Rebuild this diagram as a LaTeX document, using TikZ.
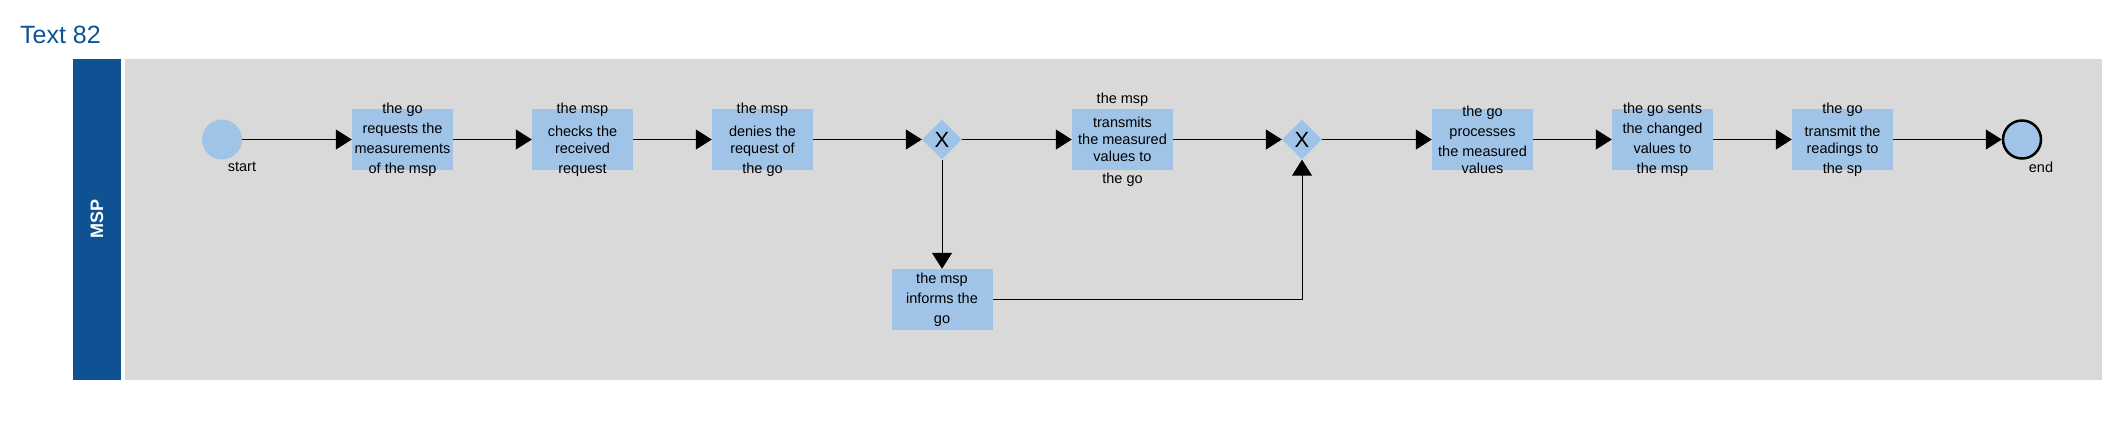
\documentclass[tikz,border=0pt]{standalone}
\usepackage{fontspec}
\setmainfont{Liberation Sans}
\usetikzlibrary{shapes.geometric,arrows.meta}
\definecolor{taskblue}{RGB}{160,196,232}
\definecolor{poolgray}{RGB}{217,217,217}
\definecolor{lanedark}{RGB}{14,82,148}
\begin{document}
\begin{tikzpicture}[
    x=1pt, y=-1pt,
    every node/.style={font=\fontsize{14.5}{20}\selectfont},
    task/.style={rectangle, fill=taskblue, minimum width=101pt, minimum height=61pt, inner sep=0pt},
    tasktext/.style={align=center, inner sep=0pt, text=black},
    gateway/.style={diamond, fill=taskblue, minimum width=40pt, minimum height=40pt, inner sep=0pt, font=\fontsize{22}{24}\selectfont},
    startev/.style={circle, fill=taskblue, minimum size=40pt, inner sep=0pt},
    endev/.style={circle, fill=taskblue, draw=black, line width=2.5pt, minimum size=38pt, inner sep=0pt},
    evlabel/.style={inner sep=0pt},
    flow/.style={draw, line width=1pt, -{Triangle[length=16pt, width=20pt]}},
    lanebar/.style={rectangle, fill=lanedark, text=white, rotate=90, minimum width=321pt, minimum height=48pt, inner sep=0pt, font=\fontsize{18}{20}\selectfont\bfseries},
    title/.style={inner sep=0pt, text=lanedark, font=\fontsize{25}{30}\selectfont}
]
\useasboundingbox (0,0) rectangle (2119,421);

% Title and lane
\node[title, anchor=base west] (title) at (20,43) {Text 82};
\fill[poolgray] (125,59) rectangle (2102,380);
\node[lanebar] (msp) at (97,219) {MSP};

% Events
\node[startev] (start) at (222,139.5) {};
\node[evlabel] (start-l) at (242,167) {start};
\node[endev] (end) at (2022,139.5) {};
\node[evlabel] (end-l) at (2041,167) {end};

% Tasks
\node[task] (request) at (402.5,139.5) {};
\node[tasktext] (request-t) at (request) {the go\\ requests the\\ measurements\\ of the msp};
\node[task] (check) at (582.5,139.5) {};
\node[tasktext] (check-t) at (check) {the msp\\[3pt] checks the\\[-3pt] received\\ request};
\node[task] (deny) at (762.5,139.5) {};
\node[tasktext] (deny-t) at (deny) {the msp\\[3pt] denies the\\[-3pt] request of\\ the go};
\node[task] (transmit) at (1122.5,139.5) {};
\node[tasktext] (transmit-t) at (transmit) {the msp\\[4pt] transmits\\[-3pt] the measured\\[-3pt] values to\\[2pt] the go};
\node[task] (inform) at (942,299.5) {};
\node[tasktext] (inform-t) at (inform) {the msp\\ informs the\\ go};
\node[task] (process) at (1482.5,139.5) {};
\node[tasktext] (process-t) at (process) {the go\\ processes\\ the measured\\[-3pt] values};
\node[task] (sent) at (1662.5,139.5) {};
\node[tasktext] (sent-t) at (sent) {the go sents\\ the changed\\ values to\\ the msp};
\node[task] (readings) at (1842.5,139.5) {};
\node[tasktext] (readings-t) at (readings) {the go\\[3pt] transmit the\\[-3pt] readings to\\ the sp};

% Gateways
\node[gateway] (gw1) at (942,139.5) {X};
\node[gateway] (gw2) at (1302,139.5) {X};

% Sequence flows
\draw[flow] (start) -- (request);
\draw[flow] (request) -- (check);
\draw[flow] (check) -- (deny);
\draw[flow] (deny) -- (gw1);
\draw[flow] (gw1) -- (transmit);
\draw[flow] (transmit) -- (gw2);
\draw[flow] (gw1) -- (inform);
\draw[flow] (inform.east) -| (gw2.south);
\draw[flow] (gw2) -- (process);
\draw[flow] (process) -- (sent);
\draw[flow] (sent) -- (readings);
\draw[flow] (readings) -- (end);

\end{tikzpicture}
\end{document}
